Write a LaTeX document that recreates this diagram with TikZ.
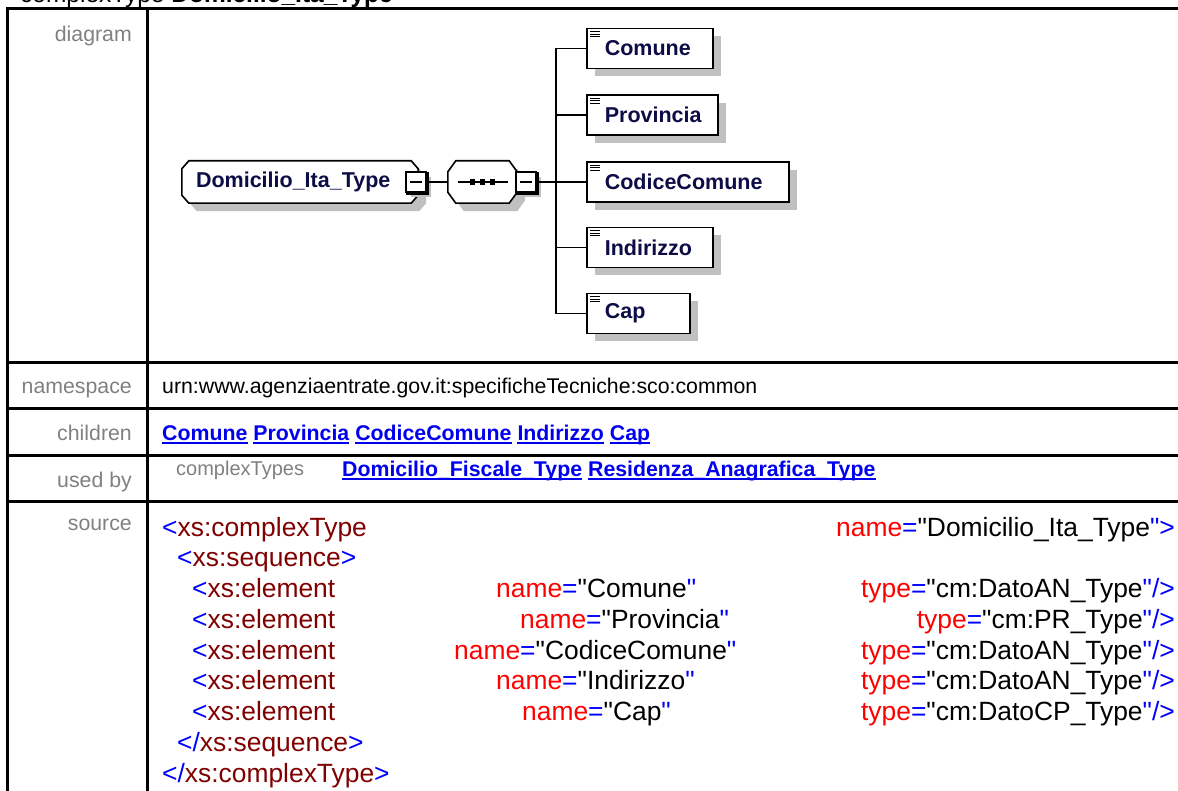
\documentclass[tikz,border=0pt]{standalone}
\usepackage{fontspec}
\setmainfont[Ligatures=TeXOff]{Liberation Sans}
\usetikzlibrary{shadows,calc}
\definecolor{lblgray}{RGB}{128,128,128}
\definecolor{navy}{RGB}{12,12,70}
\definecolor{shgray}{RGB}{192,192,192}
\definecolor{lnkblue}{RGB}{0,0,238}
\definecolor{tagblue}{RGB}{0,0,255}
\definecolor{elred}{RGB}{128,0,0}
\definecolor{atred}{RGB}{255,0,0}
\newcommand{\xtg}[1]{\textcolor{tagblue}{#1}}
\newcommand{\xel}[1]{\textcolor{elred}{#1}}
\newcommand{\xat}[1]{\textcolor{atred}{#1}}
\pgfdeclarelayer{bglayer}
\pgfsetlayers{bglayer,main}
\begin{document}
\begin{tikzpicture}[x=1pt,y=-1pt,
  grid/.style={line width=3pt, black},
  lbl/.style={anchor=base east, text=lblgray, inner sep=0pt, font=\fontsize{21.3}{24}\selectfont},
  val/.style={anchor=base west, inner sep=0pt, font=\fontsize{21.3}{24}\selectfont},
  lnk/.style={anchor=base west, inner sep=0pt, text=lnkblue, font=\fontsize{21.3}{24}\selectfont\bfseries},
  ubar/.style={line width=2pt, lnkblue},
  src/.style={anchor=base west, inner sep=0pt, font=\fontsize{26.4}{30}\selectfont},
  srcr/.style={src, anchor=base east},
  dshadow/.style={general shadow={fill=shgray, shadow xshift=8pt, shadow yshift=-8pt}},
  tnode/.style={rectangle, minimum height=42pt, inner xsep=14pt, inner ysep=0pt, text width=208pt, align=left, text=navy, font=\fontsize{21.5}{24}\selectfont\bfseries},
  seqn/.style={rectangle, minimum width=69pt, minimum height=42pt, inner sep=0pt},
  mbox/.style={rectangle, draw=black, line width=1.2pt, fill=white, minimum size=20pt, inner sep=0pt, general shadow={fill=shgray, shadow xshift=5pt, shadow yshift=-5pt}},
  elbox/.style={rectangle, draw=black, line width=1.6pt, fill=white, minimum height=40pt, inner xsep=18pt, inner ysep=0pt, text width=#1, align=left, anchor=west, text=navy, font=\fontsize{21.5}{24}\selectfont\bfseries, dshadow},
  shapeline/.style={draw=black, line width=1.6pt, fill=white, dshadow},
  conn/.style={line width=1.8pt, black},
  icon/.style={line width=1pt, black}
]
\useasboundingbox (0,0) rectangle (1178,791);
\clip (0,0) rectangle (1178,791);

% title (cut off at the top, as in the reference)
\node[anchor=base west, inner sep=0pt, font=\fontsize{24.5}{28}\selectfont] (title) at (20,3) {complexType \textbf{Domicilio\_Ita\_Type}};

% table grid
\draw[grid, line join=miter] (7.5,800) -- (7.5,8.5) -- (1180,8.5);
\draw[grid] (147,8.5) -- (147,800);
\foreach \yy in {363,409,455,501} \draw[grid] (7.5,\yy) -- (1180,\yy);

% row labels
\node[lbl] (ldiag) at (132,42) {diagram};
\node[lbl] (lns) at (132,394) {namespace};
\node[lbl] (lch) at (132,440) {children};
\node[lbl] (lub) at (132,487) {used by};
\node[lbl] (lsrc) at (132,530) {source};

% namespace
\node[val] (ns) at (162,394) {urn:www.agenziaentrate.gov.it:specificheTecniche:sco:common};

% children
\node[lnk] (k1) at (162,440) {Comune};
\node[lnk] (k2) at ([xshift=5.6pt]k1.base east) {Provincia};
\node[lnk] (k3) at ([xshift=5.6pt]k2.base east) {CodiceComune};
\node[lnk] (k4) at ([xshift=5.6pt]k3.base east) {Indirizzo};
\node[lnk] (k5) at ([xshift=5.6pt]k4.base east) {Cap};
\foreach \k in {k1,k2,k3,k4,k5} \draw[ubar] ([yshift=-3pt]\k.base west) -- ([yshift=-3pt]\k.base east);

% used by
\node[val, text=lblgray, font=\fontsize{20}{24}\selectfont] (ct) at (176,475) {complexTypes};
\node[lnk] (u1) at (342,476) {Domicilio\_Fiscale\_Type};
\node[lnk] (u2) at ([xshift=5.6pt]u1.base east) {Residenza\_Anagrafica\_Type};
\foreach \k in {u1,u2} \draw[ubar] ([yshift=-3pt]\k.base west) -- ([yshift=-3pt]\k.base east);

% source
\node[src] (s1a) at (162,536) {\xtg{<}\xel{xs:complexType}};
\node[srcr] (s1b) at (1175,536) {\xat{name}\xtg{=}"Domicilio\_Ita\_Type\xtg{">}};
\node[src] (s2) at (177,566.75) {\xtg{<}\xel{xs:sequence}\xtg{>}};
\node[src] (s3a) at (192,597.5) {\xtg{<}\xel{xs:element}};
\node[src] (s3b) at (496,597.5) {\xat{name}\xtg{=}"Comune\xtg{"}};
\node[srcr] (s3c) at (1175,597.5) {\xat{type}\xtg{=}"cm:DatoAN\_Type\xtg{"/>}};
\node[src] (s4a) at (192,628.25) {\xtg{<}\xel{xs:element}};
\node[src] (s4b) at (520,628.25) {\xat{name}\xtg{=}"Provincia\xtg{"}};
\node[srcr] (s4c) at (1175,628.25) {\xat{type}\xtg{=}"cm:PR\_Type\xtg{"/>}};
\node[src] (s5a) at (192,659) {\xtg{<}\xel{xs:element}};
\node[src] (s5b) at (454,659) {\xat{name}\xtg{=}"CodiceComune\xtg{"}};
\node[srcr] (s5c) at (1175,659) {\xat{type}\xtg{=}"cm:DatoAN\_Type\xtg{"/>}};
\node[src] (s6a) at (192,689.75) {\xtg{<}\xel{xs:element}};
\node[src] (s6b) at (496,689.75) {\xat{name}\xtg{=}"Indirizzo\xtg{"}};
\node[srcr] (s6c) at (1175,689.75) {\xat{type}\xtg{=}"cm:DatoAN\_Type\xtg{"/>}};
\node[src] (s7a) at (192,720.5) {\xtg{<}\xel{xs:element}};
\node[src] (s7b) at (522,720.5) {\xat{name}\xtg{=}"Cap\xtg{"}};
\node[srcr] (s7c) at (1175,720.5) {\xat{type}\xtg{=}"cm:DatoCP\_Type\xtg{"/>}};
\node[src] (s8) at (177,751.25) {\xtg{</}\xel{xs:sequence}\xtg{>}};
\node[src] (s9) at (162,782) {\xtg{</}\xel{xs:complexType}\xtg{>}};

% ---------- diagram ----------
\node[tnode] (dom) at (300,182) {Domicilio\_Ita\_Type};
\node[seqn] (seq) at (482.5,182) {};
\begin{pgfonlayer}{bglayer}
\path[shapeline]
  ($(dom.north west)+(7,0)$) -- ($(dom.north east)+(-7,0)$) -- ($(dom.north east)+(0,8)$)
  -- ($(dom.south east)+(0,-8)$) -- ($(dom.south east)+(-7,0)$) -- ($(dom.south west)+(7,0)$)
  -- ($(dom.south west)+(0,-8)$) -- ($(dom.north west)+(0,8)$) -- cycle;
\path[shapeline]
  ($(seq.north west)+(8,0)$) -- ($(seq.north east)+(-8,0)$) -- ($(seq.north east)+(0,11)$)
  -- ($(seq.south east)+(0,-11)$) -- ($(seq.south east)+(-8,0)$) -- ($(seq.south west)+(8,0)$)
  -- ($(seq.south west)+(0,-11)$) -- ($(seq.north west)+(0,11)$) -- cycle;
\end{pgfonlayer}

% sequence glyph
\draw[line width=1.4pt] ([xshift=-25pt]seq.center) -- ([xshift=25pt]seq.center);
\foreach \dx in {-10,0,10} \fill ([xshift=\dx pt]seq.center) +(-2.6,-2.6) rectangle +(2.6,2.6);

% minus boxes
\node[mbox] (m1) at (416,182) {};
\node[mbox] (m2) at (526,182) {};
\foreach \m in {m1,m2} {
  \draw[line width=2pt] ([xshift=1pt,yshift=-0.5pt]\m.north east) -- ([xshift=1pt,yshift=-1pt]\m.south east) -- ([xshift=0.5pt,yshift=-1pt]\m.south west);
  \draw[line width=1.2pt] ([xshift=-6pt]\m.center) -- ([xshift=6pt]\m.center);
}

% children elements
\node[elbox=90pt]  (c1) at (586,48.5)  {Comune};
\node[elbox=95pt]  (c2) at (586,115)   {Provincia};
\node[elbox=166pt] (c3) at (586,182)   {CodiceComune};
\node[elbox=90pt]  (c4) at (586,247.5) {Indirizzo};
\node[elbox=67pt]  (c5) at (586,313.5) {Cap};
\foreach \c in {c1,c2,c3,c4,c5} {
  \foreach \dy in {4,6.5,9} \draw[icon] ($(\c.north west)+(4,\dy)$) -- ($(\c.north west)+(14,\dy)$);
}

% connectors
\coordinate (jn) at (556,182);
\draw[conn] (m1.east) -- (seq.west);
\draw[conn] (m2.east) -- (c3.west);
\draw[conn] (c1.west) -| (jn) |- (c5.west);
\draw[conn] (c2.west) -- (c2.west -| jn);
\draw[conn] (c4.west) -- (c4.west -| jn);
\end{tikzpicture}
\end{document}
